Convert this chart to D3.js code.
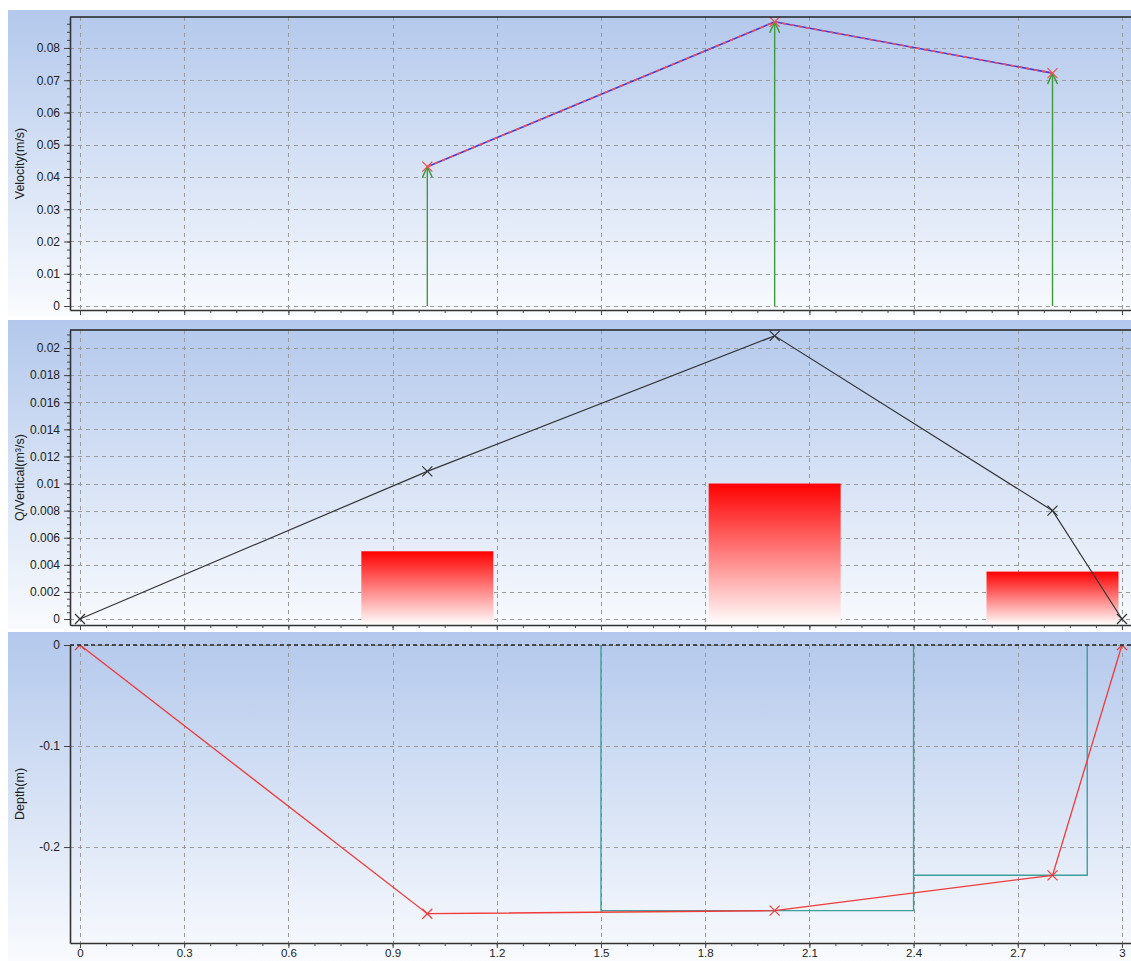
<!DOCTYPE html>
<html>
<head>
<meta charset="utf-8">
<script src="https://cdn.jsdelivr.net/npm/d3@7"></script>
<style>
  body { margin: 0; background: #ffffff; }
  svg { display: block; font-family: "Liberation Sans", Arial, sans-serif; }
</style>
</head>
<body>
<svg id="chart" width="1131" height="961"></svg>
<script>
// ---- data ----
const xTicks = [0, 0.3, 0.6, 0.9, 1.2, 1.5, 1.8, 2.1, 2.4, 2.7, 3];

// velocity per vertical
const velStations = [1, 2, 2.8];
const velValues = [0.0432, 0.0881, 0.0722];
const velTicks = [0, 0.01, 0.02, 0.03, 0.04, 0.05, 0.06, 0.07, 0.08];

// discharge per vertical
const qStations = [0, 1, 2, 2.8, 3];
const qValues = [0, 0.0109, 0.0209, 0.0080, 0];
const barCenters = [1, 2, 2.8];
const barValues = [0.0050, 0.0100, 0.0035];
const barWidth = 0.38;
const qTicks = [0, 0.002, 0.004, 0.006, 0.008, 0.01, 0.012, 0.014, 0.016, 0.018, 0.02];

// bed profile
const depthStations = [0, 1, 2, 2.8, 3];
const depthValues = [0, -0.266, -0.263, -0.228, 0];
const sectionEdges = [1.5, 2.4, 2.9];
const sectionDepths = [-0.263, -0.228];
const depthTicks = [0, -0.1, -0.2];

// ---- layout ----
const svg = d3.select("#chart");
const W = 1131;
const left = 70, right = 1131;

const x = d3.scaleLinear().domain([-0.0288, 3.026]).range([left, right]);

const defs = svg.append("defs");
const bg = defs.append("linearGradient").attr("id", "panelBg")
  .attr("x1", 0).attr("y1", 0).attr("x2", 0).attr("y2", 1);
bg.append("stop").attr("offset", "0%").attr("stop-color", "#b3c8ec");
bg.append("stop").attr("offset", "100%").attr("stop-color", "#f9fbfe");

const barGrad = defs.append("linearGradient").attr("id", "barFill")
  .attr("x1", 0).attr("y1", 0).attr("x2", 0).attr("y2", 1);
barGrad.append("stop").attr("offset", "0%").attr("stop-color", "#ff0000");
barGrad.append("stop").attr("offset", "100%").attr("stop-color", "#ffffff");

const fmt = d => String(+(+d).toFixed(4));

function panel(cfg) {
  const g = svg.append("g");
  g.append("rect").attr("x", 8).attr("y", cfg.bgTop)
    .attr("width", W - 8).attr("height", cfg.bgBottom - cfg.bgTop)
    .attr("fill", "url(#panelBg)");

  const y = d3.scaleLinear().domain(cfg.yDomain).range([cfg.bottom, cfg.top]);

  const clipId = "clip" + cfg.id;
  defs.append("clipPath").attr("id", clipId).append("rect")
    .attr("x", left).attr("y", cfg.top)
    .attr("width", right - left).attr("height", cfg.bottom - cfg.top);

  // grid
  const grid = g.append("g").attr("stroke", "#999").attr("stroke-width", 1)
    .attr("stroke-dasharray", "4,4").attr("fill", "none");
  grid.selectAll("line.v").data(xTicks).join("line")
    .attr("x1", d => Math.round(x(d)) + 0.5).attr("x2", d => Math.round(x(d)) + 0.5)
    .attr("y1", cfg.top).attr("y2", cfg.bottom);
  grid.selectAll("line.h").data(cfg.yTicks).join("line")
    .attr("y1", d => Math.round(y(d)) + 0.5).attr("y2", d => Math.round(y(d)) + 0.5)
    .attr("x1", left).attr("x2", right);

  const plot = g.append("g").attr("clip-path", `url(#${clipId})`);
  cfg.draw(plot, y);

  // axes
  const step = cfg.yTicks[1] - cfg.yTicks[0];
  const [d0, d1] = cfg.yDomain;
  const minorY = d3.range(Math.ceil(d0 / (step / 4)), Math.floor(d1 / (step / 4)) + 1)
    .map(i => i * step / 4);
  const minorX = d3.range(0, Math.floor(3.026 / 0.075) + 1).map(i => i * 0.075);

  const yAxis = g.append("g").attr("transform", `translate(${left},0)`)
    .call(d3.axisLeft(y).tickValues(cfg.yTicks).tickFormat(fmt).tickSize(6).tickSizeOuter(0));
  g.append("g").attr("transform", `translate(${left},0)`)
    .call(d3.axisLeft(y).tickValues(minorY).tickFormat("").tickSize(3).tickSizeOuter(0))
    .call(a => a.select(".domain").remove());
  yAxis.selectAll("text").attr("font-size", 12).attr("fill", "#222").attr("dx", "-1");

  const xAxis = g.append("g").attr("transform", `translate(0,${cfg.bottom})`)
    .call(d3.axisBottom(x).tickValues(xTicks).tickFormat(cfg.xLabels ? fmt : "").tickSize(5).tickSizeOuter(0));
  g.append("g").attr("transform", `translate(0,${cfg.bottom})`)
    .call(d3.axisBottom(x).tickValues(minorX).tickFormat("").tickSize(3).tickSizeOuter(0))
    .call(a => a.select(".domain").remove());
  xAxis.selectAll("text").attr("font-size", 11.5).attr("fill", "#222")
    .attr("y", 14).attr("dy", null);

  g.selectAll(".domain").attr("stroke", "#333").attr("stroke-width", 1.6);
  g.selectAll(".tick line").attr("stroke", "#444");

  if (cfg.topBorder) {
    g.append("line").attr("x1", left).attr("x2", right)
      .attr("y1", cfg.top).attr("y2", cfg.top)
      .attr("stroke", "#222").attr("stroke-width", 1.5);
  }

  // axis title
  g.append("text")
    .attr("transform", `translate(24,${(cfg.top + cfg.bottom) / 2}) rotate(-90)`)
    .attr("text-anchor", "middle").attr("font-size", 12.5).attr("fill", "#222")
    .text(cfg.title);
  return y;
}

function cross(sel, pts, color) {
  const r = 5;
  sel.append("path")
    .attr("d", pts.map(([px, py]) =>
      `M${px - r},${py - r}L${px + r},${py + r}M${px - r},${py + r}L${px + r},${py - r}`).join(""))
    .attr("stroke", color).attr("stroke-width", 1.2).attr("fill", "none");
}

// ---- velocity panel ----
panel({
  id: 1, bgTop: 10, bgBottom: 316, top: 17, bottom: 310,
  yDomain: [-0.00124, 0.0896], yTicks: velTicks, topBorder: true,
  title: "Velocity(m/s)",
  draw: (p, y) => {
    const pts = velStations.map((s, i) => [x(s), y(velValues[i])]);
    // arrows from the bed up to each velocity
    p.selectAll("line.arrow").data(velStations).join("line")
      .attr("x1", d => x(d)).attr("x2", d => x(d))
      .attr("y1", y(0)).attr("y2", (d, i) => y(velValues[i]))
      .attr("stroke", "#3c9a3c").attr("stroke-width", 1.4);
    p.selectAll("path.head").data(velStations).join("path")
      .attr("d", (d, i) => {
        const px = x(d), py = y(velValues[i]);
        return `M${px - 5},${py + 11}L${px},${py}L${px + 5},${py + 11}`;
      })
      .attr("stroke", "#3c9a3c").attr("stroke-width", 1.4).attr("fill", "none");
    const line = d3.line();
    p.append("path").attr("d", line(pts)).attr("stroke", "#3a3ae8")
      .attr("stroke-width", 1.6).attr("fill", "none");
    p.append("path").attr("d", line(pts)).attr("stroke", "#ff4a4a")
      .attr("stroke-width", 1.6).attr("stroke-dasharray", "4,4").attr("fill", "none");
    cross(p, pts, "#f05050");
  }
});

// ---- discharge panel ----
panel({
  id: 2, bgTop: 320, bgBottom: 629, top: 330, bottom: 625,
  yDomain: [-0.00044, 0.02133], yTicks: qTicks, topBorder: true,
  title: "Q/Vertical(m³/s)",
  draw: (p, y) => {
    p.selectAll("rect.bar").data(barCenters).join("rect")
      .attr("x", d => x(d - barWidth / 2))
      .attr("width", d => x(d + barWidth / 2) - x(d - barWidth / 2))
      .attr("y", (d, i) => y(barValues[i]))
      .attr("height", (d, i) => y.range()[0] - y(barValues[i]))
      .attr("fill", "url(#barFill)");
    const pts = qStations.map((s, i) => [x(s), y(qValues[i])]);
    p.append("path").attr("d", d3.line()(pts)).attr("stroke", "#333")
      .attr("stroke-width", 1.2).attr("fill", "none");
    cross(p, pts, "#333");
  }
});

// ---- depth panel ----
panel({
  id: 3, bgTop: 632, bgBottom: 961, top: 645, bottom: 943,
  yDomain: [-0.295, 0], yTicks: depthTicks, topBorder: false, xLabels: true,
  title: "Depth(m)",
  draw: (p, y) => {
    // sub-section outlines
    const sec = d3.path();
    sectionDepths.forEach((dep, i) => {
      sec.moveTo(x(sectionEdges[i]), y(0));
      sec.lineTo(x(sectionEdges[i]), y(dep));
      sec.lineTo(x(sectionEdges[i + 1]), y(dep));
      sec.lineTo(x(sectionEdges[i + 1]), y(0));
    });
    p.append("path").attr("d", sec.toString()).attr("stroke", "#3d9f9c")
      .attr("stroke-width", 1.4).attr("fill", "none");
    const pts = depthStations.map((s, i) => [x(s), y(depthValues[i])]);
    p.append("path").attr("d", d3.line()(pts)).attr("stroke", "#f03a3a")
      .attr("stroke-width", 1.3).attr("fill", "none");
    cross(p, pts, "#f03a3a");
  }
});

// water surface line
svg.append("line").attr("x1", left).attr("x2", right)
  .attr("y1", 645).attr("y2", 645)
  .attr("stroke", "#222").attr("stroke-width", 1.4).attr("stroke-dasharray", "4,3");
</script>
</body>
</html>
